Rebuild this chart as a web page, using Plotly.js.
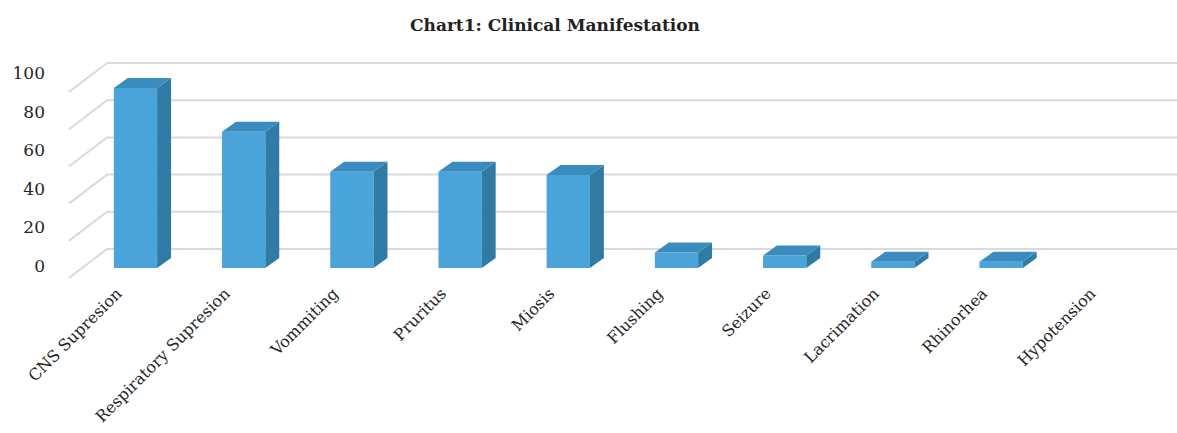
<!DOCTYPE html>
<html>
<head>
<meta charset="utf-8">
<script src="https://cdn.plot.ly/plotly-3.0.1.min.js"></script>
<style>html,body{margin:0;padding:0;background:#fff;}#chart{width:1177px;height:433px;}</style>
</head>
<body>
<div id="chart"></div>
<script>
// ---- data ----
const categories = ["CNS Supresion", "Respiratory Supresion", "Vommiting", "Pruritus", "Miosis",
                    "Flushing", "Seizure", "Lacrimation", "Rhinorhea", "Hypotension"];
const values = [96.7, 73.3, 51.7, 51.7, 50, 8.3, 6.7, 3.3, 3.3, 0];
const yTicks = [0, 20, 40, 60, 80, 100];
const chartTitle = "Chart1: Clinical Manifestation";

// ---- style / geometry constants ----
const BAR_W = 0.4;        // front face width (category units)
const DEPTH_X = 0.129;    // oblique depth offset in x (category units)
const DEPTH_Y = 5.38;     // oblique depth offset in y (value units)
const BACK_OFF = 10.2;    // back-wall gridline offset (value units)
const FRONT_OFF = -5.4;   // front edge of side-wall gridline (value units)
const WALL_X0 = -0.615;   // left end of side-wall lines (x units)
const WALL_X1 = -0.263;   // corner where side wall meets back wall
const X_END = 9.7;
const LABEL_SHIFT = -0.17;
const C_FRONT = "#4aa3d9", C_TOP = "#3a8cbf", C_SIDE = "#2f7ba3";
const GRID = "#d8dae0";
const FONT = "DejaVu Serif";

const traces = [];

// gridlines (side wall diagonals + back wall)
const gx = [], gy = [];
yTicks.forEach(v => {
  gx.push(WALL_X0, WALL_X1, X_END, null);
  gy.push(v + FRONT_OFF, v + BACK_OFF, v + BACK_OFF, null);
});
traces.push({type: "scatter", mode: "lines", x: gx, y: gy, line: {color: GRID, width: 2},
             hoverinfo: "skip", showlegend: false});

// bars: front, side and top faces, drawn from the values
values.forEach((v, i) => {
  if (v <= 0) return;
  const l = i - BAR_W / 2, r = i + BAR_W / 2;
  traces.push({type: "scatter", mode: "lines", fill: "toself", fillcolor: C_FRONT, name: categories[i],
               x: [l, r, r, l, l], y: [0, 0, v, v, 0],
               line: {width: 0, color: C_FRONT}, hoverinfo: "skip", showlegend: false});
  traces.push({type: "scatter", mode: "lines", fill: "toself", fillcolor: C_SIDE,
               x: [r, r, r + DEPTH_X, r + DEPTH_X, r], y: [0, v, v + DEPTH_Y, DEPTH_Y, 0],
               line: {width: 0, color: C_SIDE}, hoverinfo: "skip", showlegend: false});
  traces.push({type: "scatter", mode: "lines", fill: "toself", fillcolor: C_TOP,
               x: [l, r, r + DEPTH_X, l + DEPTH_X, l], y: [v, v, v + DEPTH_Y, v + DEPTH_Y, v],
               line: {width: 0, color: C_TOP}, hoverinfo: "skip", showlegend: false});
});

// dummy trace for the label axis
traces.push({type: "scatter", x: [null], y: [null], yaxis: "y2", showlegend: false, hoverinfo: "skip"});

const layout = {
  width: 1177, height: 433,
  margin: {l: 50, r: 0, t: 55, b: 153},
  paper_bgcolor: "#fff", plot_bgcolor: "rgba(0,0,0,0)",
  title: {text: "<b>" + chartTitle + "</b>", font: {family: FONT, size: 17, color: "#222"},
          xref: "container", x: 555 / 1177, xanchor: "center",
          yref: "container", y: 1 - 25 / 433, yanchor: "middle"},
  xaxis: {range: [-0.790, 9.626], tickmode: "array", tickvals: categories.map((c, i) => i + LABEL_SHIFT),
          ticktext: categories, tickangle: -45, showgrid: false, zeroline: false,
          showline: false, ticks: "", tickfont: {family: FONT, size: 16, color: "#262626"},
          fixedrange: true},
  yaxis: {range: [-6.45, 114.5], visible: false, fixedrange: true},
  yaxis2: {overlaying: "y", side: "left", range: [-7.25, 109.3], tickmode: "array",
           tickvals: yTicks, ticktext: yTicks.map(String), showgrid: false, zeroline: false,
           showline: false, ticks: "", ticklabelstandoff: 4,
           tickfont: {family: FONT, size: 17, color: "#262626"}, fixedrange: true}
};

Plotly.newPlot("chart", traces, layout, {displayModeBar: false, staticPlot: true});
</script>
</body>
</html>
